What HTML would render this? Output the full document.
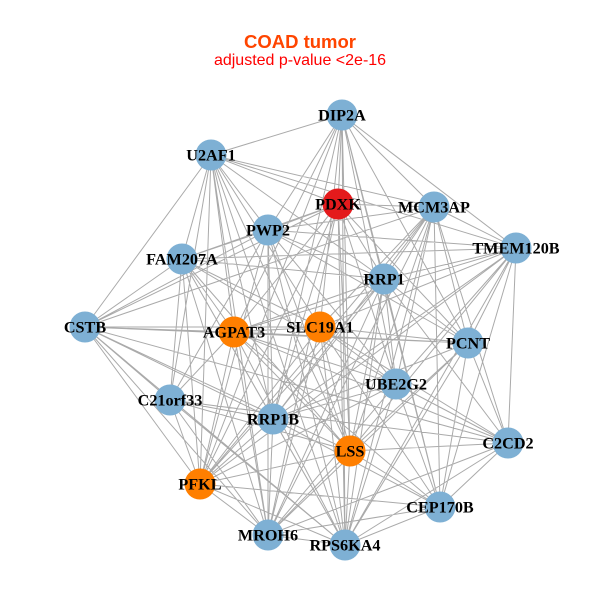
<!DOCTYPE html>
<html><head><meta charset="utf-8"><style>
html,body{margin:0;padding:0;background:#fff;}
svg{display:block;}
.t{font-family:"Liberation Serif",serif;font-weight:bold;font-size:16.2px;fill:#000;text-anchor:middle;}
</style></head><body>
<svg width="600" height="600" viewBox="0 0 600 600" xmlns="http://www.w3.org/2000/svg">
<rect width="600" height="600" fill="#fff"/>
<text x="300" y="48" text-anchor="middle" font-family="Liberation Sans, sans-serif" font-weight="bold" font-size="18.5" fill="#FF4500">COAD tumor</text>
<text x="300" y="65" text-anchor="middle" font-family="Liberation Sans, sans-serif" font-size="16" fill="#FF0000">adjusted p-value &lt;2e-16</text>
<path fill="none" stroke="#AAAAAA" stroke-width="1" d="
M342 115L211 155M342 115L338 204M342 115L434 207M342 115L268 230M342 115L516 248M342 115L384 279M342 115L234 332M342 115L320 327M342 115L468 343M342 115L396 384M342 115L273 419M342 115L350 451M342 115L200 484M342 115L440 507M342 115L345 545
M211 155L338 204M211 155L434 207M211 155L268 230M211 155L516 248M211 155L182 259M211 155L384 279M211 155L85 327M211 155L234 332M211 155L320 327M211 155L170 400M211 155L273 419M211 155L350 451M211 155L200 484M211 155L268 535M211 155L345 545
M338 204L434 207M338 204L268 230M338 204L182 259M338 204L384 279M338 204L85 327M338 204L234 332M338 204L468 343M338 204L396 384M338 204L273 419M338 204L350 451M338 204L200 484M338 204L268 535M338 204L345 545
M434 207L268 230M434 207L516 248M434 207L384 279M434 207L85 327M434 207L320 327M434 207L468 343M434 207L396 384M434 207L273 419M434 207L350 451M434 207L508 443M434 207L200 484M434 207L440 507M434 207L268 535M434 207L345 545
M268 230L516 248M268 230L182 259M268 230L384 279M268 230L85 327M268 230L468 343M268 230L396 384M268 230L170 400M268 230L273 419M268 230L350 451M268 230L200 484M268 230L268 535M268 230L345 545
M516 248L182 259M516 248L384 279M516 248L234 332M516 248L320 327M516 248L468 343M516 248L396 384M516 248L273 419M516 248L350 451M516 248L508 443M516 248L200 484M516 248L440 507M516 248L345 545
M182 259L384 279M182 259L85 327M182 259L234 332M182 259L320 327M182 259L396 384M182 259L170 400M182 259L273 419M182 259L350 451M182 259L200 484M182 259L268 535M182 259L345 545
M384 279L234 332M384 279L468 343M384 279L396 384M384 279L273 419M384 279L350 451M384 279L508 443M384 279L200 484M384 279L440 507M384 279L268 535M384 279L345 545
M85 327L234 332M85 327L320 327M85 327L468 343M85 327L170 400M85 327L273 419M85 327L350 451M85 327L508 443M85 327L200 484M85 327L268 535M85 327L345 545
M234 332L320 327M234 332L468 343M234 332L396 384M234 332L170 400M234 332L350 451M234 332L508 443M234 332L200 484M234 332L440 507M234 332L268 535M234 332L345 545
M320 327L468 343M320 327L396 384M320 327L350 451M320 327L508 443M320 327L200 484M320 327L440 507M320 327L268 535M320 327L345 545
M468 343L273 419M468 343L350 451M468 343L508 443M468 343L440 507M468 343L268 535M468 343L345 545
M396 384L273 419M396 384L508 443M396 384L200 484M396 384L440 507M396 384L268 535M396 384L345 545
M170 400L273 419M170 400L350 451M170 400L508 443M170 400L200 484M170 400L268 535M170 400L345 545
M273 419L200 484M273 419L440 507M273 419L268 535M273 419L345 545
M350 451L508 443M350 451L200 484M350 451L440 507M350 451L268 535M350 451L345 545
M508 443L440 507M508 443L268 535M508 443L345 545
M200 484L440 507M200 484L268 535M200 484L345 545
M440 507L268 535M440 507L345 545
M268 535L345 545"/>
<g>
<circle cx="342" cy="115" r="15.5" fill="#7EB0D4"/>
<circle cx="211" cy="155" r="15.5" fill="#7EB0D4"/>
<circle cx="338" cy="204" r="15.5" fill="#E41A1C"/>
<circle cx="434" cy="207" r="15.5" fill="#7EB0D4"/>
<circle cx="268" cy="230" r="15.5" fill="#7EB0D4"/>
<circle cx="516" cy="248" r="15.5" fill="#7EB0D4"/>
<circle cx="182" cy="259" r="15.5" fill="#7EB0D4"/>
<circle cx="384" cy="279" r="15.5" fill="#7EB0D4"/>
<circle cx="85" cy="327" r="15.5" fill="#7EB0D4"/>
<circle cx="234" cy="332" r="15.5" fill="#FF7F00"/>
<circle cx="320" cy="327" r="15.5" fill="#FF7F00"/>
<circle cx="468" cy="343" r="15.5" fill="#7EB0D4"/>
<circle cx="396" cy="384" r="15.5" fill="#7EB0D4"/>
<circle cx="170" cy="400" r="15.5" fill="#7EB0D4"/>
<circle cx="273" cy="419" r="15.5" fill="#7EB0D4"/>
<circle cx="350" cy="451" r="15.5" fill="#FF7F00"/>
<circle cx="508" cy="443" r="15.5" fill="#7EB0D4"/>
<circle cx="200" cy="484" r="15.5" fill="#FF7F00"/>
<circle cx="440" cy="507" r="15.5" fill="#7EB0D4"/>
<circle cx="268" cy="535" r="15.5" fill="#7EB0D4"/>
<circle cx="345" cy="545" r="15.5" fill="#7EB0D4"/>
</g>
<g>
<text class="t" x="342" y="120.5">DIP2A</text>
<text class="t" x="211" y="160.5">U2AF1</text>
<text class="t" x="338" y="209.5">PDXK</text>
<text class="t" x="434" y="212.5">MCM3AP</text>
<text class="t" x="268" y="235.5">PWP2</text>
<text class="t" x="516" y="253.5">TMEM120B</text>
<text class="t" x="182" y="264.5">FAM207A</text>
<text class="t" x="384" y="284.5">RRP1</text>
<text class="t" x="85" y="332.5">CSTB</text>
<text class="t" x="234" y="337.5">AGPAT3</text>
<text class="t" x="320" y="332.5">SLC19A1</text>
<text class="t" x="468" y="348.5">PCNT</text>
<text class="t" x="396" y="389.5">UBE2G2</text>
<text class="t" x="170" y="405.5">C21orf33</text>
<text class="t" x="273" y="424.5">RRP1B</text>
<text class="t" x="350" y="456.5">LSS</text>
<text class="t" x="508" y="448.5">C2CD2</text>
<text class="t" x="200" y="489.5">PFKL</text>
<text class="t" x="440" y="512.5">CEP170B</text>
<text class="t" x="268" y="540.5">MROH6</text>
<text class="t" x="345" y="550.5">RPS6KA4</text>
</g>
</svg>
</body></html>
